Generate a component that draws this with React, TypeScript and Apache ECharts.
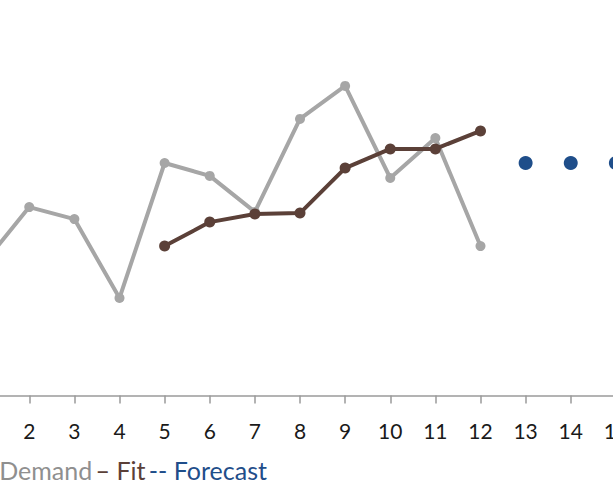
import React, { useEffect, useRef } from "react";
import * as echarts from "echarts";

// Periods on the x axis
const periods = [1, 2, 3, 4, 5, 6, 7, 8, 9, 10, 11, 12];
// Observed demand per period
const demand = [44.2, 62.8, 58.8, 32.5, 77.5, 73.2, 61.2, 92.2, 103.2, 72.5, 85.8, 49.8];
// Fitted values (first available in period 5)
const fitPeriods = [5, 6, 7, 8, 9, 10, 11, 12];
const fit = [49.8, 57.8, 60.5, 60.8, 75.8, 82.2, 82.2, 88.2];
// Forecast for future periods
const forecastPeriods = [13, 14, 15];
const forecast = [77.5, 77.5, 77.5];
// Tick labels that are printed under the axis
const shownTicks = [2, 3, 4, 5, 6, 7, 8, 9, 10, 11, 12, 13, 14, 15];

const GRAY = "#a6a6a6";
const BROWN = "#5b4038";
const BLUE = "#1f4e8a";
const FONT = "Lato, 'Open Sans', sans-serif";

// The plot runs past both window edges: the canvas is wider than the page
// and shifted left so that period 0 and period 16 fall outside the view.
const SHIFT_LEFT = 61.2;
const CANVAS_W = 721.6;

export default function App() {
  const ref = useRef<HTMLDivElement>(null);

  useEffect(() => {
    if (!ref.current) return;
    const chart = echarts.init(ref.current, undefined, { renderer: "svg" });
    chart.setOption({
      animation: false,
      backgroundColor: "#ffffff",
      grid: {
        left: 0,
        right: 0,
        top: 35.5,
        bottom: 89.5,
        containLabel: false,
        outerBoundsMode: "none",
      },
      xAxis: {
        type: "value",
        min: 0,
        max: 16,
        interval: 1,
        splitLine: { show: false },
        axisLine: { show: true, onZero: false, lineStyle: { color: "#9a9a9a", width: 1.5 } },
        axisTick: { show: true, length: 8, lineStyle: { color: "#9a9a9a", width: 1.5 } },
        axisLabel: {
          color: "#1a1a1a",
          fontFamily: FONT,
          fontSize: 21,
          margin: 24,
          formatter: (v: number) => (shownTicks.includes(v) ? String(v) : ""),
        },
      },
      yAxis: {
        type: "value",
        min: 0,
        max: 120,
        show: false,
        splitLine: { show: false },
      },
      series: [
        {
          name: "Demand",
          type: "line",
          data: periods.map((p, i) => [p, demand[i]]),
          symbol: "circle",
          symbolSize: 10,
          lineStyle: { color: GRAY, width: 4 },
          itemStyle: { color: GRAY },
          z: 2,
        },
        {
          name: "Fit",
          type: "line",
          data: fitPeriods.map((p, i) => [p, fit[i]]),
          symbol: "circle",
          symbolSize: 11,
          lineStyle: { color: BROWN, width: 4 },
          itemStyle: { color: BROWN },
          z: 3,
        },
        {
          name: "Forecast",
          type: "scatter",
          data: forecastPeriods.map((p, i) => [p, forecast[i]]),
          symbol: "circle",
          symbolSize: 14,
          itemStyle: { color: BLUE, opacity: 1 },
          z: 4,
        },
      ],
      graphic: [
        {
          type: "text",
          left: SHIFT_LEFT - 1,
          top: 457,
          style: {
            text: "{d|Demand} {f|– Fit} {c|-- Forecast}",
            rich: {
              d: { fill: "#8f8f8f", fontFamily: FONT, fontSize: 25 },
              f: { fill: BROWN, fontFamily: FONT, fontSize: 25 },
              c: { fill: BLUE, fontFamily: FONT, fontSize: 25 },
            },
          },
        },
      ],
    });
    return () => chart.dispose();
  }, []);

  return (
    <div
      ref={ref}
      style={{ width: CANVAS_W, height: 485, position: "fixed", left: -SHIFT_LEFT, top: 0 }}
    />
  );
}
